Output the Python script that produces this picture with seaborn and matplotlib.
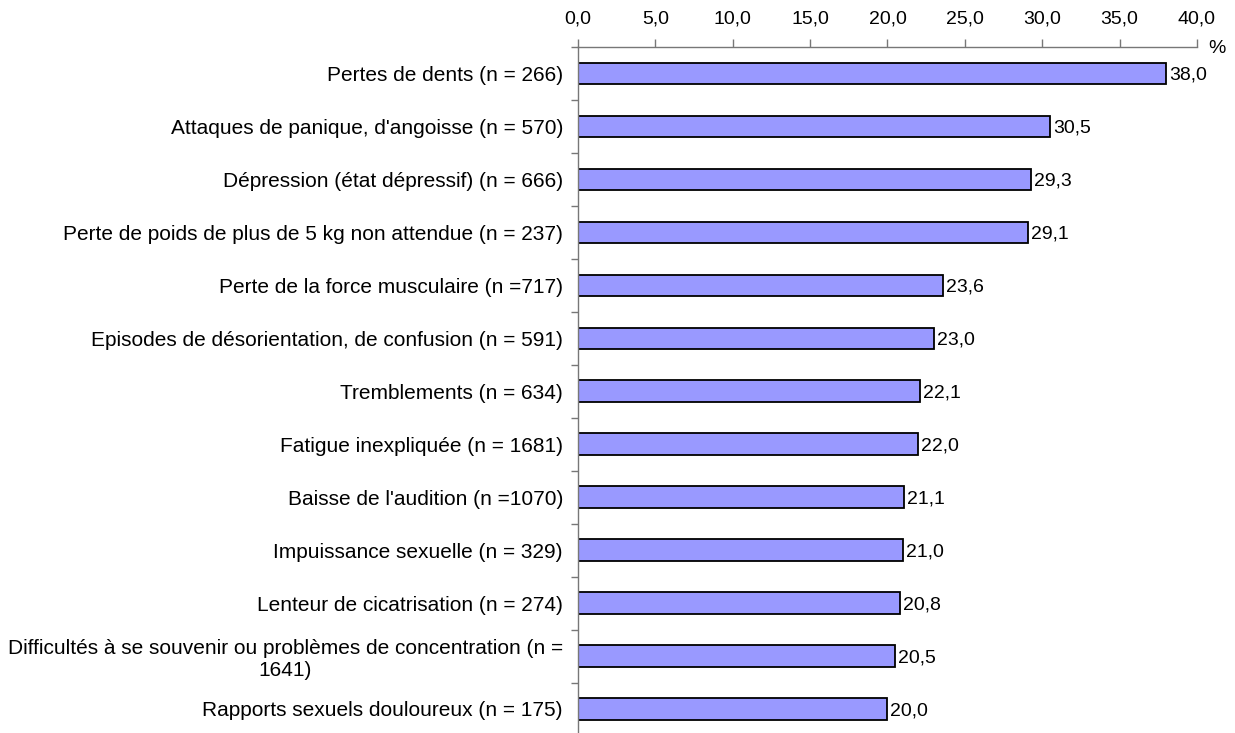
import matplotlib
matplotlib.use("Agg")
import matplotlib.pyplot as plt
import seaborn as sns
import pandas as pd
from matplotlib.ticker import FixedLocator

categories = [
    "Pertes de dents (n = 266)",
    "Attaques de panique, d'angoisse (n = 570)",
    "Dépression (état dépressif) (n = 666)",
    "Perte de poids de plus de 5 kg non attendue (n = 237)",
    "Perte de la force musculaire (n =717)",
    "Episodes de désorientation, de confusion (n = 591)",
    "Tremblements (n = 634)",
    "Fatigue inexpliquée (n = 1681)",
    "Baisse de l'audition (n =1070)",
    "Impuissance sexuelle (n = 329)",
    "Lenteur de cicatrisation (n = 274)",
    "Difficultés à se souvenir ou problèmes de concentration (n =\n1641)",
    "Rapports sexuels douloureux (n = 175)",
]
values = [38.0, 30.5, 29.3, 29.1, 23.6, 23.0, 22.1, 22.0, 21.1, 21.0, 20.8, 20.5, 20.0]
xticks = [0, 5, 10, 15, 20, 25, 30, 35, 40]
xtick_labels = ["0,0", "5,0", "10,0", "15,0", "20,0", "25,0", "30,0", "35,0", "40,0"]

sns.set_theme(style="white")
plt.rcParams["font.family"] = ["Liberation Sans", "DejaVu Sans"]

df = pd.DataFrame({"cat": categories, "val": values})

fig = plt.figure(figsize=(12.35, 7.33), dpi=100)
ax = fig.add_axes([0.468, -0.0034, 0.9692 - 0.468, 0.9363 + 0.0034])

sns.barplot(data=df, x="val", y="cat", orient="h", color="#9999ff",
            saturation=1, edgecolor="black", linewidth=1.3, width=0.4, ax=ax)

n = len(categories)
ax.set_xlim(0, 40)
ax.set_ylim(n - 0.5, -0.5)

# top x axis
ax.xaxis.tick_top()
ax.set_xticks(xticks)
ax.set_xticklabels(xtick_labels, fontsize=14, color="black")
ax.tick_params(axis="x", which="major", direction="out", length=6, width=1,
               color="#777777", pad=7.5, bottom=False, top=True)
ax.set_xlabel("")
ax.set_ylabel("")

# y axis: labels at centres, ticks at boundaries
ax.set_yticks(range(n))
ax.set_yticklabels(categories, fontsize=15, color="black")
for lab in ax.get_yticklabels():
    lab.set_multialignment("center")
ax.yaxis.set_minor_locator(FixedLocator([i - 0.5 for i in range(n + 1)]))
ax.tick_params(axis="y", which="major", length=0, pad=10.8)
ax.tick_params(axis="y", which="minor", direction="out", length=5, width=1,
               color="#777777", left=True)

for side in ["right", "bottom"]:
    ax.spines[side].set_visible(False)
for side in ["top", "left"]:
    ax.spines[side].set_color("#777777")
    ax.spines[side].set_linewidth(1)

# value labels
texts = ax.bar_label(ax.containers[0],
                     labels=[f"{v:.1f}".replace(".", ",") for v in values],
                     padding=2, fontsize=14, color="black")
for t in texts:
    t.set_va("center_baseline")

ax.annotate("%", xy=(1.0, 1.0), xycoords="axes fraction", xytext=(8, -1),
            textcoords="offset points", ha="left", va="center", fontsize=14,
            color="black", annotation_clip=False)

fig.savefig("out.png", dpi=100)
